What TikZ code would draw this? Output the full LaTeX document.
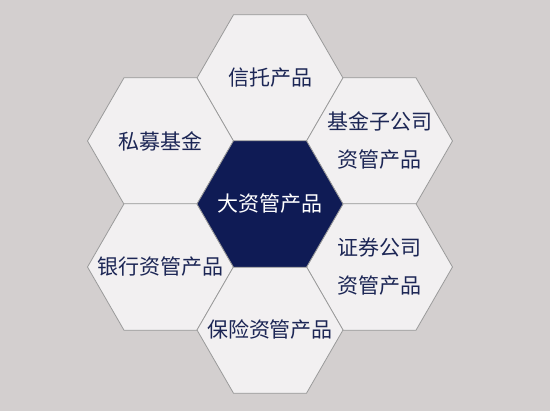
\documentclass[tikz,border=0pt]{standalone}
\usepackage{fontspec}
\setmainfont{Noto Sans CJK SC}

\definecolor{bggray}{HTML}{D3CFCF}
\definecolor{hexfill}{HTML}{F2F0F1}
\definecolor{hexline}{HTML}{9A9A9A}
\definecolor{navy}{HTML}{0F1B55}
\definecolor{textnavy}{HTML}{1C2655}

\tikzset{
  hexedge/.style={draw=hexline, line width=0.8pt, fill=hexfill},
  hexlabel/.style={text=textnavy, align=center, font=\fontsize{21}{38}\selectfont},
  corelabel/.style={hexlabel, text=white}
}

\begin{document}
\begin{tikzpicture}[x=1pt,y=-1pt]
  % Background
  \fill[bggray] (0,0) rectangle (550,411);
  \useasboundingbox (0,0) rectangle (550,411);

  % Hexagon centres
  \coordinate (ctrust) at (270,78);
  \coordinate (cprivate) at (160.5,141);
  \coordinate (cfundsub) at (379.5,141);
  \coordinate (cbank) at (160.5,267);
  \coordinate (cbroker) at (379.5,267);
  \coordinate (cinsure) at (270,330);
  \coordinate (ccore) at (270,204);

  % Hexagons
  \foreach \c in {ctrust,cprivate,cfundsub,cbank,cbroker,cinsure}
    \draw[hexedge] (\c) ++(0:73) -- ++(120:73) -- ++(180:73) -- ++(240:73)
      -- ++(300:73) -- ++(0:73) -- cycle;
  \draw[hexedge, fill=navy] (ccore) ++(0:73) -- ++(120:73) -- ++(180:73)
    -- ++(240:73) -- ++(300:73) -- ++(0:73) -- cycle;

  % Labels
  \node[hexlabel] (trust) at (ctrust) {信托产品};
  \node[hexlabel] (private) at (cprivate) {私募基金};
  \node[hexlabel] (fundsub) at (cfundsub) {基金子公司\\资管产品};
  \node[hexlabel] (bank) at (cbank) {银行资管产品};
  \node[hexlabel] (broker) at (cbroker) {证券公司\\资管产品};
  \node[hexlabel] (insure) at (cinsure) {保险资管产品};
  \node[corelabel] (core) at (ccore) {大资管产品};
\end{tikzpicture}
\end{document}
